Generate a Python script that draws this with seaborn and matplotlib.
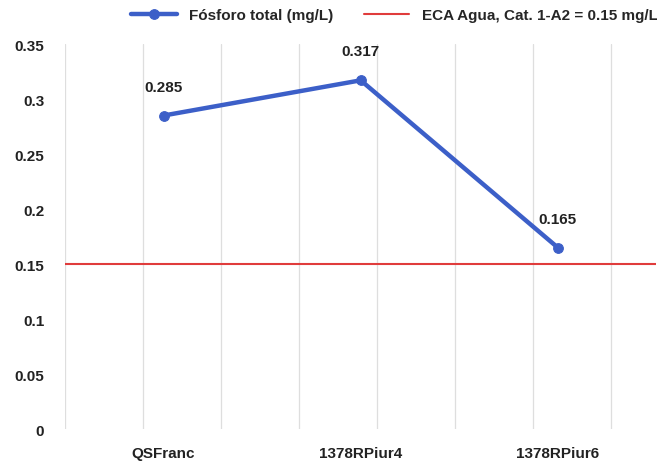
import matplotlib
matplotlib.use("Agg")
import matplotlib.pyplot as plt
import numpy as np
import pandas as pd
import seaborn as sns

# datos
estaciones = ["QSFranc", "1378RPiur4", "1378RPiur6"]
fosforo = [0.285, 0.317, 0.165]
eca = 0.15
yticks = [0, 0.05, 0.1, 0.15, 0.2, 0.25, 0.3, 0.35]
ytick_labels = ["0", "0.05", "0.1", "0.15", "0.2", "0.25", "0.3", "0.35"]

sns.set_style("white")
plt.rcParams["font.family"] = ["Liberation Sans", "DejaVu Sans"]
plt.rcParams["font.weight"] = "bold"

df = pd.DataFrame({"estacion": estaciones, "fosforo": fosforo})
df["x"] = range(len(df))

fig = plt.figure(figsize=(6.57, 4.64), dpi=100)
ax = fig.add_axes([0.099, 0.073, 0.9, 0.83])

# lineas verticales de la grilla
for gx in np.arange(-0.5, 2.6, 0.396):
    ax.axvline(gx, color="#dedede", lw=0.9, zorder=0)

ax.axhline(eca, color="#e03c3c", lw=1.5, zorder=1,
           label="ECA Agua, Cat. 1-A2 = 0.15 mg/L")
sns.lineplot(data=df, x="x", y="fosforo", ax=ax, color="#3c5fc8", lw=3.2,
             marker="o", markersize=7, markeredgecolor="#3c5fc8",
             label="Fósforo total (mg/L)", zorder=3)

for xi, v in zip(df["x"], df["fosforo"]):
    ax.text(xi, v + 0.02, f"{v:.3f}", ha="center", va="bottom",
            fontsize=11, fontweight="bold", color="#222222")

ax.set_xlim(-0.5, 2.5)
ax.set_ylim(0, 0.35)
ax.set_yticks(yticks)
ax.set_yticklabels(ytick_labels)
ax.set_xticks(df["x"])
ax.set_xticklabels(estaciones)
ax.tick_params(axis="both", labelsize=11, length=0, colors="#222222")
ax.tick_params(axis="y", pad=15)
ax.tick_params(axis="x", pad=12)
for lbl in ax.get_xticklabels() + ax.get_yticklabels():
    lbl.set_fontweight("bold")
ax.set_xlabel("")
ax.set_ylabel("")
sns.despine(ax=ax, left=True, bottom=True, top=True, right=True)

h, l = ax.get_legend_handles_labels()
order = [l.index("Fósforo total (mg/L)"), l.index("ECA Agua, Cat. 1-A2 = 0.15 mg/L")]
fig.legend([h[i] for i in order], [l[i] for i in order], loc="upper center",
           bbox_to_anchor=(0.6, 1.01), ncol=2, frameon=False,
           handlelength=3, columnspacing=2, prop={"weight": "bold", "size": 11})
if ax.get_legend():
    ax.get_legend().remove()

fig.savefig("out.png", dpi=100)
